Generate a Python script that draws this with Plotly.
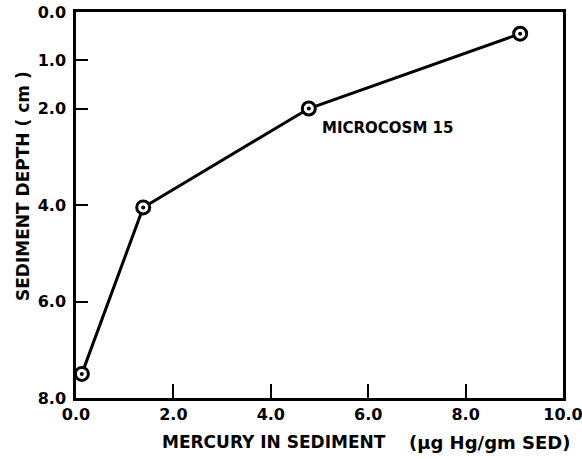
import plotly.graph_objects as go

# Mercury concentration profile in sediment, microcosm 15
mercury = [0.12, 1.38, 4.78, 9.12]      # ug Hg / gm sediment
depth = [7.5, 4.05, 2.0, 0.45]          # cm below surface

x_ticks = [0, 2, 4, 6, 8, 10]
x_tick_text = ["0.0", "2.0", "4.0", "6.0", "8.0", "10.0"]
y_ticks = [0, 1, 2, 4, 6, 8]
y_tick_text = ["0.0", "1.0", "2.0", "4.0", "6.0", "8.0"]

FONT = "DejaVu Sans"
BOLD = lambda size: dict(family=FONT, size=size, color="black", weight="bold")

fig = go.Figure()

# connecting line with open circle markers
fig.add_trace(go.Scatter(
    x=mercury, y=depth, mode="lines+markers",
    line=dict(color="black", width=3),
    marker=dict(symbol="circle", size=13, color="white",
                line=dict(color="black", width=3)),
    hoverinfo="skip", showlegend=False,
))
# centre dots
fig.add_trace(go.Scatter(
    x=mercury, y=depth, mode="markers",
    marker=dict(symbol="circle", size=4, color="black"),
    hoverinfo="skip", showlegend=False,
))

axis_common = dict(
    showline=True, mirror=True, linecolor="black", linewidth=2.5,
    showgrid=False, zeroline=False, automargin=False,
    ticks="inside", tickcolor="black", tickwidth=2,
    tickfont=BOLD(16), ticklabeloverflow="allow",
)

fig.update_xaxes(range=[0, 10], tickvals=x_ticks, ticktext=x_tick_text,
                 ticklen=14, **axis_common)
fig.update_yaxes(range=[8, 0], tickvals=y_ticks, ticktext=y_tick_text,
                 ticklen=12, ticklabelstandoff=4, **axis_common)

# axis titles
fig.add_annotation(
    text="SEDIMENT DEPTH ( cm )", textangle=-90,
    xref="paper", yref="paper", x=-0.109, y=0.549,
    xanchor="center", yanchor="middle", showarrow=False, font=BOLD(17),
)
fig.add_annotation(
    text="MERCURY IN SEDIMENT",
    xref="paper", yref="paper", x=0.1725, y=0, xanchor="left", yanchor="top",
    yshift=-32, showarrow=False, font=BOLD(17),
)
fig.add_annotation(
    text="(\u03bcg Hg/gm SED)",
    xref="paper", yref="paper", x=0.6797, y=0, xanchor="left", yanchor="top",
    yshift=-32, showarrow=False, font=BOLD(18),
)

fig.add_annotation(
    text="MICROCOSM 15", x=5.0, y=2.4, xanchor="left", yanchor="middle",
    showarrow=False, font=BOLD(15),
)

fig.update_layout(
    width=582, height=459,
    margin=dict(l=76, r=19, t=12, b=61),
    plot_bgcolor="white", paper_bgcolor="white",
)

fig.write_html("out.html")
